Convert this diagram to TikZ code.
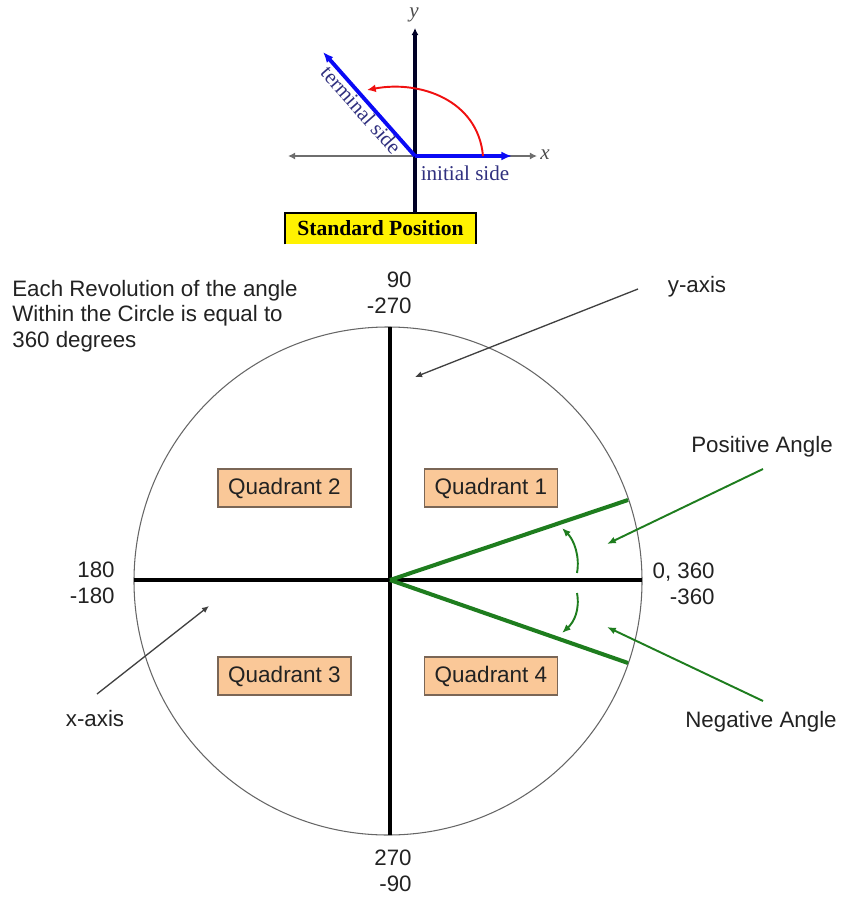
\documentclass[tikz,border=0pt]{standalone}
\usepackage{fontspec}
\setmainfont{Liberation Serif}
\setsansfont{Liberation Sans}
\usetikzlibrary{arrows.meta,positioning}
\definecolor{quadfill}{HTML}{FAC898}
\definecolor{quaddraw}{HTML}{7A6656}
\definecolor{angvert}{RGB}{30,125,30}
\definecolor{navyT}{HTML}{30307F}
\definecolor{bleuS}{HTML}{0A0AF5}
\definecolor{rougeA}{HTML}{F01010}
\definecolor{axeG}{HTML}{6E6E6E}
\definecolor{texteN}{HTML}{222222}
\tikzset{
  quadbox/.style={rectangle, draw=quaddraw, fill=quadfill, line width=0.6pt, minimum width=2.66cm,
                  minimum height=0.76cm, inner sep=0pt, text=texteN, font=\sffamily\fontsize{12.8}{14}\selectfont},
  lbl/.style={inner sep=0pt, text=texteN, font=\sffamily\fontsize{12.7}{14.5}\selectfont},
  tlbl/.style={inner sep=0.3pt, text=navyT, font=\fontsize{12}{12}\selectfont},
  stdbox/.style={rectangle, fill=yellow, minimum width=3.82cm, minimum height=0.62cm, inner sep=0pt,
                 font=\bfseries\fontsize{12.3}{12.3}\selectfont},
  axe/.style={line width=1.9pt, draw=black},
  cercle/.style={line width=0.6pt, draw=black!60},
  ptr/.style={-{Latex[length=4pt,width=3.5pt]}, line width=0.75pt, draw=black!75},
  gptr/.style={-{Latex[length=5pt,width=4pt]}, line width=1.1pt, draw=angvert},
  gray on/.style={line width=2.3pt, draw=angvert},
  gaxe/.style={{Latex[length=4pt,width=4pt]}-{Latex[length=4pt,width=4pt]}, line width=1.5pt, draw=axeG},
  naxe/.style={-{Latex[length=4pt,width=4pt]}, line width=1.9pt, draw=black!85!blue},
  bside/.style={-{Latex[length=6pt,width=5pt]}, line width=2.2pt, draw=bleuS},
  rarc/.style={-{Latex[length=5pt,width=4.5pt]}, line width=1.1pt, draw=rougeA},
}

\begin{document}
\begin{tikzpicture}[x=0.02cm, y=-0.02cm]
\useasboundingbox (0,0) rectangle (843,899);
\coordinate (o) at (415,156);
\coordinate (ytop) at (415,28);
\coordinate (ybot) at (415,213);
\coordinate (xl) at (288,156);
\coordinate (xr) at (537,156);
\coordinate (ini) at (512,156);
\coordinate (term) at (323,52);
\coordinate (rs) at (483,156);
\coordinate (re) at (367,90);
\node[stdbox] (std) at (380.5,228.5) {Standard Position};
\draw[line width=1.1pt] (std.south west) -- (std.north west) -- (std.north east) -- (std.south east);
\node[tlbl, rotate=-48.5, anchor=north] (termtxt) at (367.5,104.5) {terminal side};
\node[tlbl] (initxt) at (465,173) {initial side};
\node[inner sep=0pt, text=black!70, font=\itshape\fontsize{12}{12}\selectfont] (ylab) at (414,15) {y};
\node[inner sep=0pt, text=black!70, font=\itshape\fontsize{12}{12}\selectfont] (xlab) at (545,155) {x};
\draw[gaxe] (xl) -- (xr);
\draw[naxe] (ybot) -- (ytop);
\draw[bside] (o) -- (ini);
\draw[bside] (o) -- (term);
\draw[rarc] (rs) .. controls (478,100) and (420,80) .. (re);

\coordinate (C) at (388,581);
\coordinate (O) at (390,580);
\coordinate (xW) at (134,580);
\coordinate (xE) at (642,580);
\coordinate (yN) at (390,327);
\coordinate (yS) at (390,835);
\coordinate (pA) at (628,500);
\coordinate (nA) at (628,663);
\draw[cercle] (C) circle[radius=254];
\draw[axe] (xW) -- (xE);
\draw[axe] (yN) -- (yS);
\draw[gray on] (O) -- (pA);
\draw[gray on] (O) -- (nA);
\draw[gptr] (577,573) .. controls (580,556) and (574,540) .. (562,528);
\draw[gptr] (577,593) .. controls (580,610) and (574,622) .. (562,633);

\node[quadbox] (q2) at (284.5,488) {Quadrant 2};
\node[quadbox] (q1) at (491,488) {Quadrant 1};
\node[quadbox] (q3) at (284.5,676) {Quadrant 3};
\node[quadbox] (q4) at (491,676) {Quadrant 4};

\node[lbl, align=left, anchor=west] (rev) at (12,316) {Each Revolution of the angle\\Within the Circle is equal to\\360 degrees};
\node[lbl, align=right, anchor=east] (n90) at (412,293) {90\\-270};
\node[lbl, align=right, anchor=east] (n180) at (115,583) {180\\-180};
\node[lbl, align=right, anchor=east] (n0) at (715,584) {0, 360\\-360};
\node[lbl, align=right, anchor=east] (n270) at (412,871) {270\\-90};

\node[lbl] (yax) at (697,287) {y-axis};
\node[lbl] (xax) at (95,719) {x-axis};
\node[lbl] (posang) at (762,447) {Positive Angle};
\node[lbl] (negang) at (761,722) {Negative Angle};

\coordinate (yaxs) at (638,289);
\coordinate (yaxe) at (415,377);
\coordinate (xaxs) at (97,694);
\coordinate (xaxe) at (209,606);
\coordinate (poss) at (763,469);
\coordinate (pose) at (607,544);
\coordinate (negs) at (763,701);
\coordinate (nege) at (607,627);
\draw[ptr] (yaxs) -- (yaxe);
\draw[ptr] (xaxs) -- (xaxe);
\draw[gptr] (poss) -- (pose);
\draw[gptr] (negs) -- (nege);
\end{tikzpicture}
\end{document}
